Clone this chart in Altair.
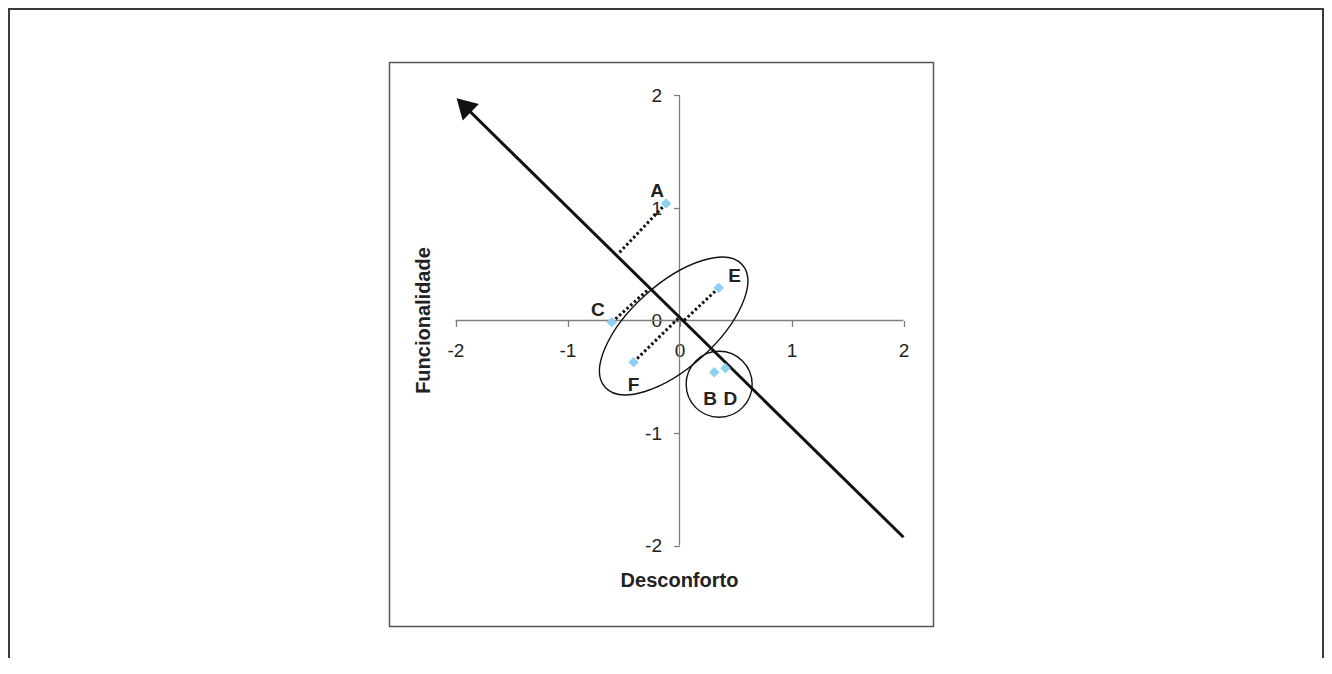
import altair as alt
import pandas as pd

# ---------------- data ----------------
labels = ["A", "B", "C", "D", "E", "F"]
desconforto = [-0.12, 0.31, -0.605, 0.41, 0.35, -0.41]
funcionalidade = [1.04, -0.46, -0.016, -0.425, 0.29, -0.37]

# dotted projection lines onto the arrow (point -> foot on arrow)
proj_labels = ["A", "C", "E", "F"]
proj_x = [-0.55, -0.263, 0.035, 0.0]
proj_y = [0.59, 0.29, -0.005, 0.03]

# arrow (tail -> head)
arrow_x = [2.0, -1.927]
arrow_y = [-1.927, 1.913]

# cluster outlines: ellipse (C, E, F) and circle (B, D) centres
cluster_names = ["ellipse", "circle"]
cluster_x = [-0.052, 0.354]
cluster_y = [-0.049, -0.567]

tick_values = [-2, -1, 0, 1, 2]

# ---------------- layout ----------------
W, H = 1316, 650
OX, OY = 671.5, 312.5      # pixel position of origin inside the view
UX, UY = 112.0, 112.5      # pixels per unit
xdom = [-OX / UX, (W - OX) / UX]
ydom = [-(H - OY) / UY, OY / UY]
FONT = "Liberation Sans, Arial, sans-serif"
INK = "#111111"
AXIS_GREY = "#808080"

label_dx = {"A": -9, "B": -4, "C": -14, "D": 5, "E": 16, "F": 0}
label_dy = {"A": -13, "B": 27, "C": -12, "D": 31, "E": -12, "F": 23}

xs = alt.Scale(domain=xdom, nice=False, zero=False)
ys = alt.Scale(domain=ydom, nice=False, zero=False)

pts = pd.DataFrame({"label": labels, "x": desconforto, "y": funcionalidade})
pts["lx"] = pts["x"] + pts["label"].map(label_dx) / UX
pts["ly"] = pts["y"] - pts["label"].map(label_dy) / UY

pmap = dict(zip(labels, zip(desconforto, funcionalidade)))
proj = pd.DataFrame({
    "label": proj_labels,
    "x": [pmap[l][0] for l in proj_labels],
    "y": [pmap[l][1] for l in proj_labels],
    "x2": proj_x,
    "y2": proj_y,
})

arrow = pd.DataFrame({"x": [arrow_x[0]], "y": [arrow_y[0]], "x2": [arrow_x[1]], "y2": [arrow_y[1]]})
head = pd.DataFrame({"x": [arrow_x[1]], "y": [arrow_y[1]]})
clusters = pd.DataFrame({"name": cluster_names, "x": cluster_x, "y": cluster_y})

axes_df = pd.DataFrame({
    "x": [tick_values[0], 0],
    "x2": [tick_values[-1], 0],
    "y": [0, tick_values[0]],
    "y2": [0, tick_values[-1]],
})

neg_label = "datum.value < 0 ? '-' + abs(datum.value) : '' + datum.value"

x_axis = alt.Axis(
    values=tick_values, offset=-(H - OY), domain=False, grid=False,
    ticks=True, tickColor=AXIS_GREY, tickSize=6, tickWidth=1.3,
    labelFont=FONT, labelFontSize=19, labelColor="#222222", labelPadding=15,
    labelFlush=False, labelOverlap=False, labelExpr=neg_label,
    title="Desconforto", titleFont=FONT, titleFontSize=20, titleFontWeight="bold",
    titleColor="#222222", titleX=671, titleY=260, titleBaseline="middle", titleAlign="center",
)
y_axis = alt.Axis(
    values=tick_values, offset=-OX, domain=False, grid=False, orient="left",
    ticks=True, tickColor=AXIS_GREY, tickSize=6, tickWidth=1.3,
    labelFont=FONT, labelFontSize=19, labelColor="#222222", labelPadding=12,
    labelFlush=False, labelOverlap=False, labelExpr=neg_label,
    title="Funcionalidade", titleFont=FONT, titleFontSize=20, titleFontWeight="bold",
    titleColor="#222222", titleX=-256, titleY=312, titleAngle=270,
    titleBaseline="middle", titleAlign="center",
)


def X(field):
    return alt.X(field, type="quantitative", scale=xs, axis=x_axis)


def Y(field):
    return alt.Y(field, type="quantitative", scale=ys, axis=y_axis)


one = pd.DataFrame({"k": [0]})

outer_frame = alt.Chart(one).mark_rect(fill="transparent", stroke="#3a3a3a", strokeWidth=2).encode(
    x=alt.value(1), x2=alt.value(W - 1), y=alt.value(1), y2=alt.value(H + 60)
)
inner_frame = alt.Chart(one).mark_rect(fill="transparent", stroke="#555555", strokeWidth=1.5).encode(
    x=alt.value(381.5), x2=alt.value(925.5), y=alt.value(54.5), y2=alt.value(618.5)
)

axis_lines = alt.Chart(axes_df).mark_rule(color=AXIS_GREY, strokeWidth=1.3).encode(
    x=X("x"), x2="x2:Q", y=Y("y"), y2="y2:Q",
)

dotted = alt.Chart(proj).mark_rule(color=INK, strokeWidth=3, strokeDash=[2.5, 2.5]).encode(
    x=X("x"), x2="x2:Q", y=Y("y"), y2="y2:Q",
)

# ellipse outline as a custom symbol path (major axis along x, minor ratio b)
b = 42 / 92
k = 0.5523
ell_path = (
    f"M1,0 C1,{k*b:.4f} {k:.4f},{b:.4f} 0,{b:.4f} "
    f"C{-k:.4f},{b:.4f} -1,{k*b:.4f} -1,0 "
    f"C-1,{-k*b:.4f} {-k:.4f},{-b:.4f} 0,{-b:.4f} "
    f"C{k:.4f},{-b:.4f} 1,{-k*b:.4f} 1,0 Z"
)
ellipse = alt.Chart(clusters).transform_filter(alt.datum.name == "ellipse").mark_point(
    shape=ell_path, size=(2 * 92) ** 2, angle=318.2, filled=False,
    color=INK, strokeWidth=1.4, opacity=1,
).encode(x=X("x"), y=Y("y"))

circle = alt.Chart(clusters).transform_filter(alt.datum.name == "circle").mark_point(
    shape="circle", size=66 ** 2, filled=False, color=INK, strokeWidth=1.4, opacity=1,
).encode(x=X("x"), y=Y("y"))

arrow_line = alt.Chart(arrow).mark_rule(color=INK, strokeWidth=3).encode(
    x=X("x"), x2="x2:Q", y=Y("y"), y2="y2:Q",
)
arrow_head = alt.Chart(head).mark_point(
    shape="triangle-up", size=529, angle=314.5, filled=True, color=INK, opacity=1,
).encode(x=X("x"), y=Y("y"))

diamonds = alt.Chart(pts).mark_point(
    shape="diamond", size=110, filled=True, color="#8ed0f2", opacity=1,
).encode(x=X("x"), y=Y("y"))

texts = alt.Chart(pts).mark_text(
    font=FONT, fontSize=19, fontWeight="bold", color="#222222",
    align="center", baseline="middle",
).encode(x=X("lx"), y=Y("ly"), text="label:N")

chart = alt.layer(
    outer_frame, inner_frame, axis_lines, dotted, ellipse, circle,
    arrow_line, arrow_head, diamonds, texts,
).properties(
    width=W, height=H,
    autosize=alt.AutoSizeParams(type="none"),
    padding=0,
    background="white",
).configure_view(strokeWidth=0)

chart.save("out.html", embed_options={"renderer": "svg", "actions": False})
